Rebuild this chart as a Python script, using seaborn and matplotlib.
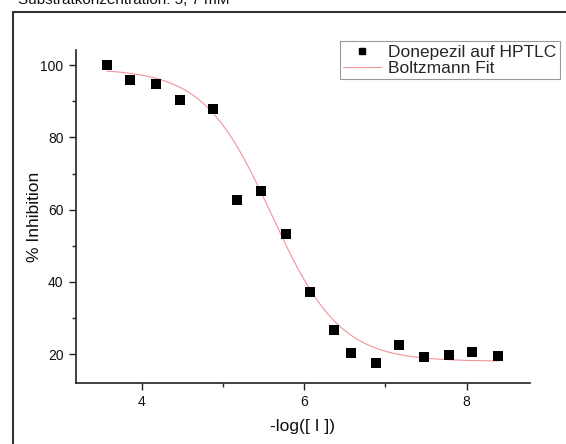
import numpy as np
import pandas as pd
import matplotlib
matplotlib.use("Agg")
import matplotlib.pyplot as plt
from matplotlib.lines import Line2D
from matplotlib.patches import Rectangle
import seaborn as sns

# ---- data ----
log_conc = [3.57, 3.86, 4.17, 4.47, 4.88, 5.17, 5.47, 5.78, 6.07,
            6.37, 6.57, 6.88, 7.17, 7.47, 7.78, 8.07, 8.38]
inhibition = [100.0, 95.8, 94.7, 90.3, 87.8, 62.7, 65.2, 53.2, 37.2,
              26.6, 20.3, 17.5, 22.5, 19.2, 19.7, 20.5, 19.4]
# Boltzmann fit parameters
fit_A1 = 99.0
fit_A2 = 18.0
fit_x0 = 5.6
fit_dx = 0.42
x_ticks = [4, 6, 8]
y_ticks = [20, 40, 60, 80, 100]
title_text = "Substratkonzentration: 5, 7 mM"
series_label = "Donepezil auf HPTLC"
fit_label = "Boltzmann Fit"

sns.set_style("ticks")
plt.rcParams["font.family"] = ["Liberation Sans", "DejaVu Sans"]

df = pd.DataFrame({"x": log_conc, "y": inhibition})
xf = np.linspace(min(log_conc), max(log_conc), 300)
yf = fit_A2 + (fit_A1 - fit_A2) / (1 + np.exp((xf - fit_x0) / fit_dx))
fit_df = pd.DataFrame({"x": xf, "y": yf})

fig = plt.figure(figsize=(5.66, 4.44), dpi=100)
ax = fig.add_axes([76/566, 1-383/444, (530-76)/566, (383-50)/444])

fit_color = "#f2939a"
sns.lineplot(data=fit_df, x="x", y="y", ax=ax, color=fit_color, linewidth=0.8)
sns.scatterplot(data=df, x="x", y="y", ax=ax, marker="s", s=44, color="black",
                linewidth=0, zorder=3)

ax.set_xlim(3.19, 8.78)
ax.set_ylim(12.0, 104.2)
ax.set_xticks(x_ticks)
ax.set_yticks(y_ticks)
ax.set_xticks([5, 7], minor=True)
ax.set_yticks([30, 50, 70, 90], minor=True)
ax.tick_params(axis="both", which="major", direction="out", length=5, width=1,
               labelsize=10, color="#222222", labelcolor="#111111", pad=4)
ax.tick_params(axis="both", which="minor", direction="out", length=3, width=1,
               color="#222222")
for s in ["top", "right"]:
    ax.spines[s].set_visible(False)
for s in ["left", "bottom"]:
    ax.spines[s].set_color("#222222")
    ax.spines[s].set_linewidth(1.2)

ax.set_xlabel("-log([ I ])", fontsize=12.5, labelpad=7, color="#111111")
ax.set_ylabel("% Inhibition", fontsize=12.5, labelpad=-1, color="#111111")

handles = [
    Line2D([], [], marker="s", linestyle="none", color="black", markersize=5),
    Line2D([], [], color=fit_color, linewidth=0.8),
]
leg = ax.legend(handles, [series_label, fit_label], loc="upper right",
                bbox_to_anchor=(560/566, 1-41/444), bbox_transform=fig.transFigure,
                fontsize=12.5, frameon=True, fancybox=False, framealpha=1,
                handlelength=2.2, handletextpad=0.4, borderpad=0.2,
                labelspacing=0.05, borderaxespad=0)
leg.get_frame().set_edgecolor("#999999")
leg.get_frame().set_linewidth(0.8)

# outer frame of the original figure
fig.patches.append(Rectangle((13/566, -0.1), 1.2, 1 - 12.5/444 + 0.1,
                             transform=fig.transFigure, fill=False,
                             edgecolor="#333333", linewidth=1.5))
fig.text(18/566, 1-4/444, title_text, fontsize=11, va="baseline", ha="left",
         color="#111111")

fig.savefig("out.png", dpi=100)
